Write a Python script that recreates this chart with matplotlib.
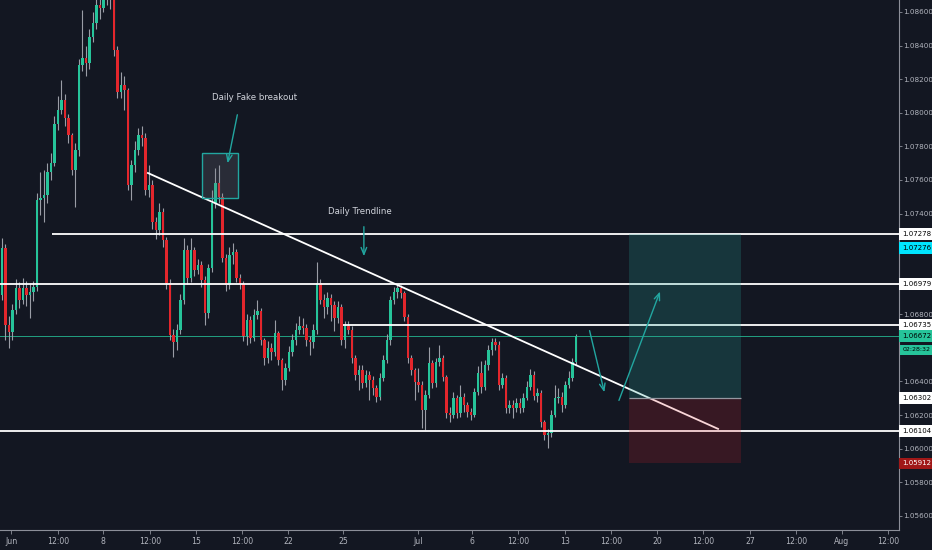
import matplotlib.pyplot as plt
from matplotlib.patches import Rectangle

# EURUSD 4h candles
first_open = 1.06915
closes = [
    1.07195, 1.06736, 1.06695, 1.06826, 1.06957, 1.06885, 1.06957, 1.06915, 1.06933, 1.06963,
    1.07481, 1.07492, 1.07510, 1.07647, 1.07701, 1.07933, 1.08016, 1.08076, 1.07969, 1.07867,
    1.07659, 1.07778, 1.08284, 1.08326, 1.08296, 1.08451, 1.08534, 1.08641, 1.08623, 1.08701,
    1.08719, 1.08671, 1.08373, 1.08123, 1.08165, 1.08135, 1.07570, 1.07689, 1.07778, 1.07867,
    1.07850, 1.07540, 1.07570, 1.07350, 1.07302, 1.07409, 1.07242, 1.06987, 1.06677, 1.06635,
    1.06707, 1.06885, 1.07183, 1.07016, 1.07183, 1.07064, 1.07094, 1.07004, 1.06808, 1.07076,
    1.07463, 1.07582, 1.07498, 1.07135, 1.06975, 1.07153, 1.07171, 1.07016, 1.06981, 1.06671,
    1.06766, 1.06659, 1.06796, 1.06820, 1.06647, 1.06540, 1.06600, 1.06576, 1.06689, 1.06528,
    1.06409, 1.06480, 1.06576, 1.06647, 1.06707, 1.06731, 1.06719, 1.06647, 1.06635, 1.06707,
    1.06987, 1.06885, 1.06844, 1.06897, 1.06856, 1.06778, 1.06844, 1.06647, 1.06731, 1.06707,
    1.06540, 1.06439, 1.06469, 1.06391, 1.06439, 1.06409, 1.06362, 1.06308, 1.06421, 1.06528,
    1.06647, 1.06885, 1.06933, 1.06957, 1.06927, 1.06784, 1.06540, 1.06469, 1.06397, 1.06379,
    1.06231, 1.06320, 1.06510, 1.06391, 1.06516, 1.06540, 1.06427, 1.06213, 1.06201, 1.06302,
    1.06213, 1.06308, 1.06260, 1.06219, 1.06201, 1.06338, 1.06451, 1.06368, 1.06498, 1.06588,
    1.06635, 1.06618, 1.06379, 1.06421, 1.06243, 1.06260, 1.06243, 1.06273, 1.06243, 1.06302,
    1.06368, 1.06439, 1.06314, 1.06332, 1.06160, 1.06082, 1.06094, 1.06201, 1.06302, 1.06308,
    1.06260, 1.06379, 1.06421, 1.06516, 1.06672,
]
highs = [
    1.07254, 1.07220, 1.06790, 1.06860, 1.07010, 1.06990, 1.07016, 1.07000, 1.06980, 1.07000,
    1.07520, 1.07647, 1.07660, 1.07700, 1.07760, 1.07980, 1.08100, 1.08195, 1.08110, 1.07990,
    1.07880, 1.07820, 1.08320, 1.08611, 1.08400, 1.08500, 1.08600, 1.08731, 1.08760, 1.08790,
    1.08800, 1.08780, 1.08700, 1.08400, 1.08240, 1.08220, 1.08150, 1.07720, 1.07830, 1.07909,
    1.07920, 1.07880, 1.07689, 1.07600, 1.07380, 1.07460, 1.07430, 1.07260, 1.07010, 1.06710,
    1.06740, 1.06920, 1.07254, 1.07210, 1.07254, 1.07200, 1.07130, 1.07120, 1.07030, 1.07100,
    1.07540, 1.07671, 1.07689, 1.07520, 1.07160, 1.07200, 1.07225, 1.07190, 1.07040, 1.07000,
    1.06800, 1.06790, 1.06830, 1.06885, 1.06840, 1.06660, 1.06640, 1.06630, 1.06766, 1.06700,
    1.06540, 1.06510, 1.06610, 1.06680, 1.06750, 1.06790, 1.06778, 1.06740, 1.06670, 1.06740,
    1.07111, 1.07010, 1.06920, 1.06930, 1.06920, 1.06880, 1.06880, 1.06860, 1.06760, 1.06760,
    1.06730, 1.06560, 1.06500, 1.06500, 1.06470, 1.06460, 1.06430, 1.06380, 1.06450, 1.06560,
    1.06680, 1.06910, 1.06963, 1.06980, 1.06975, 1.06940, 1.06800, 1.06560, 1.06480, 1.06480,
    1.06400, 1.06350, 1.06606, 1.06530, 1.06540, 1.06618, 1.06560, 1.06440, 1.06250, 1.06340,
    1.06320, 1.06379, 1.06330, 1.06280, 1.06240, 1.06360, 1.06490, 1.06520, 1.06530, 1.06620,
    1.06659, 1.06660, 1.06640, 1.06450, 1.06440, 1.06290, 1.06290, 1.06300, 1.06300, 1.06330,
    1.06400, 1.06475, 1.06460, 1.06360, 1.06350, 1.06170, 1.06120, 1.06230, 1.06379, 1.06360,
    1.06340, 1.06400, 1.06460, 1.06540, 1.06680,
]
lows = [
    1.06885, 1.06647, 1.06600, 1.06650, 1.06800, 1.06840, 1.06860, 1.06850, 1.06780, 1.06880,
    1.06940, 1.07390, 1.07350, 1.07460, 1.07600, 1.07680, 1.07900, 1.07990, 1.07920, 1.07820,
    1.07630, 1.07440, 1.07740, 1.08250, 1.08220, 1.08260, 1.08420, 1.08500, 1.08560, 1.08600,
    1.08640, 1.08620, 1.08340, 1.08088, 1.08090, 1.08016, 1.07540, 1.07481, 1.07650, 1.07750,
    1.07800, 1.07510, 1.07500, 1.07310, 1.07250, 1.07270, 1.07200, 1.06950, 1.06647, 1.06546,
    1.06588, 1.06680, 1.06860, 1.06980, 1.06990, 1.07030, 1.07040, 1.06960, 1.06736, 1.06780,
    1.07050, 1.07430, 1.07460, 1.07111, 1.06940, 1.06950, 1.07100, 1.06990, 1.06950, 1.06640,
    1.06620, 1.06630, 1.06640, 1.06770, 1.06620, 1.06498, 1.06510, 1.06530, 1.06550, 1.06500,
    1.06350, 1.06380, 1.06460, 1.06550, 1.06620, 1.06680, 1.06680, 1.06610, 1.06560, 1.06600,
    1.06680, 1.06860, 1.06780, 1.06800, 1.06760, 1.06700, 1.06750, 1.06620, 1.06600, 1.06680,
    1.06510, 1.06410, 1.06350, 1.06360, 1.06370, 1.06291, 1.06320, 1.06279, 1.06290, 1.06400,
    1.06510, 1.06620, 1.06860, 1.06900, 1.06900, 1.06760, 1.06510, 1.06440, 1.06291, 1.06340,
    1.06124, 1.06112, 1.06300, 1.06360, 1.06370, 1.06490, 1.06400, 1.06183, 1.06160, 1.06180,
    1.06180, 1.06190, 1.06220, 1.06190, 1.06171, 1.06190, 1.06320, 1.06330, 1.06350, 1.06470,
    1.06560, 1.06590, 1.06350, 1.06360, 1.06213, 1.06210, 1.06183, 1.06220, 1.06210, 1.06220,
    1.06290, 1.06350, 1.06290, 1.06280, 1.06130, 1.06052, 1.06004, 1.06070, 1.06190, 1.06270,
    1.06220, 1.06240, 1.06360, 1.06400, 1.06500,
]

# horizontal levels drawn on the chart: (price, start index)
level_prices = [1.07278, 1.06979, 1.06735, 1.06104]
level_starts = [14.3, -1, 97.4, -1]
last_price = 1.06672

# long position tool
entry, target, stop = 1.06302, 1.07278, 1.05912

ytick_vals = [1.056, 1.058, 1.060, 1.062, 1.064, 1.066, 1.068, 1.070,
              1.072, 1.074, 1.076, 1.078, 1.080, 1.082, 1.084, 1.086]
hidden_ticks = [1.066, 1.070, 1.072]
xtick_pos = [2.6, 16, 28.9, 42.3, 55.4, 68.6, 81.7, 97.4, 118.9, 134.3,
             147.4, 160.9, 174, 187.1, 200.3, 213.7, 226.9, 240, 253.1]
xtick_labels = ['Jun', '12:00', '8', '12:00', '15', '12:00', '22', '25', 'Jul', '6',
                '12:00', '13', '12:00', '20', '12:00', '27', '12:00', 'Aug', '12:00']

BG = '#131722'
UP = '#26c49a'
DOWN = '#e3262c'
WICK = '#9a9da6'
TEAL = '#22a6a0'
AXIS_TXT = '#b2b5be'
FONT = 'DejaVu Sans'

fig = plt.figure(figsize=(9.32, 5.5), dpi=100, facecolor=BG)
ax = fig.add_axes([0, 20 / 550, 899 / 932, 530 / 550])
ax.set_facecolor(BG)
ax.set_xlim(-0.57, 256.3)
ax.set_ylim(1.05516, 1.08671)

# candles
opens = [first_open] + closes[:-1]
idx = list(range(len(closes)))
cols = [UP if c >= o else DOWN for o, c in zip(opens, closes)]
ax.vlines(idx, lows, highs, color=WICK, lw=0.8, zorder=2)
bottoms = [min(o, c) for o, c in zip(opens, closes)]
heights = [max(abs(c - o), 0.00003) for o, c in zip(opens, closes)]
ax.bar(idx, heights, bottom=bottoms, width=0.78, color=cols, zorder=3)

# levels
for p, s in zip(level_prices, level_starts):
    ax.hlines(p, s, 256.3, color='white', lw=1.3, zorder=4)
ax.axhline(last_price, color=UP, lw=0.7, alpha=0.8, zorder=1)

# trendline
ax.plot([41.7, 204.6], [1.07641, 1.06118], color='white', lw=1.3, zorder=4)

# position boxes
ax.add_patch(Rectangle((179.1, entry), 32.0, target - entry, fc='#26a69a',
                       alpha=0.22, ec='none', zorder=5))
ax.add_patch(Rectangle((179.1, stop), 32.0, entry - stop, fc='#e0202a',
                       alpha=0.18, ec='none', zorder=5))
ax.hlines(entry, 179.1, 211.1, color='#9598a1', lw=0.9, zorder=5)

# fake breakout box
ax.add_patch(Rectangle((57.1, 1.07492), 10.3, 0.00268, fc='#787b86', alpha=0.22,
                       ec='none', zorder=5))
ax.add_patch(Rectangle((57.1, 1.07492), 10.3, 0.00268, fc='none', ec=TEAL,
                       lw=1, zorder=6))

arrow = dict(arrowstyle='->,head_length=0.5,head_width=0.2', color=TEAL, lw=1)
ax.annotate('', xy=(64.3, 1.07683), xytext=(67.4, 1.08004), arrowprops=arrow, zorder=6)
ax.annotate('', xy=(103.4, 1.07129), xytext=(103.4, 1.07338), arrowprops=arrow, zorder=6)
ax.annotate('', xy=(172.3, 1.06320), xytext=(167.7, 1.06719), arrowprops=arrow, zorder=6)
ax.annotate('', xy=(188.3, 1.06951), xytext=(176.0, 1.06272), arrowprops=arrow, zorder=6)

ax.text(72.3, 1.08088, 'Daily Fake breakout', color='#d1d4dc', fontsize=6.2,
        family=FONT, ha='center', va='center')
ax.text(102.3, 1.07409, 'Daily Trendline', color='#d1d4dc', fontsize=6.2,
        family=FONT, ha='center', va='center')

# axes styling
for s in ['top', 'left']:
    ax.spines[s].set_visible(False)
for s in ['right', 'bottom']:
    ax.spines[s].set_color('#8c8f99')
    ax.spines[s].set_linewidth(0.8)

ax.yaxis.tick_right()
ax.set_yticks(ytick_vals)
ax.set_yticklabels(['' if any(abs(v - h) < 1e-9 for h in hidden_ticks) else f'{v:.5f}'
                    for v in ytick_vals])
ax.set_xticks(xtick_pos)
ax.set_xticklabels(xtick_labels)
ax.tick_params(axis='x', colors='#8c8f99', labelcolor=AXIS_TXT, labelsize=5.6,
               length=3, width=0.6, pad=2)
ax.tick_params(axis='y', colors='#8c8f99', labelcolor=AXIS_TXT, labelsize=5.2,
               length=2, width=0.6, pad=1)

# price labels on the scale: (price, text, box colour, text colour, size)
tr = ax.get_yaxis_transform()
scale_labels = [
    (1.07278, '1.07278', 'white', 'black', 5.0),
    (1.07195, '1.07276', '#00e5ff', 'black', 5.0),
    (1.06979, '1.06979', 'white', 'black', 5.0),
    (1.06736, '1.06735', 'white', 'black', 5.0),
    (1.06671, '1.06672', UP, 'black', 5.0),
    (1.06588, '02:28:32', UP, 'black', 4.5),
    (1.06302, '1.06302', 'white', 'black', 5.0),
    (1.06104, '1.06104', 'white', 'black', 5.0),
    (1.05912, '1.05912', '#a01818', 'white', 5.0),
]
for p, txt, fc, tc, fs in scale_labels:
    ax.text(1.0035, p, txt, transform=tr, ha='left', va='center', fontsize=fs,
            family=FONT, color=tc, clip_on=False, zorder=10,
            bbox=dict(boxstyle='square,pad=0.4', fc=fc, ec='none'))

fig.savefig('out.png', dpi=100, facecolor=BG)
